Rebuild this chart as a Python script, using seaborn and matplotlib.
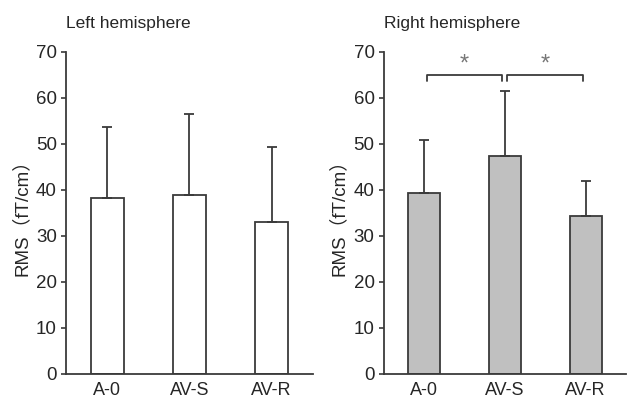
import numpy as np
import pandas as pd
import matplotlib
matplotlib.use("Agg")
import matplotlib.pyplot as plt
import seaborn as sns

# ── DATA ────────────────────────────────────────────────────────────────────
conditions = ["A-0", "AV-S", "AV-R"]
left_mean  = [38.2, 39.0, 33.0]
left_sd    = [15.5, 17.5, 16.4]
right_mean = [39.4, 47.3, 34.3]
right_sd   = [11.4, 14.3, 7.7]
yticks     = [0, 10, 20, 30, 40, 50, 60, 70]
# significance pairs (index a, index b) in right hemisphere
sig_pairs  = [(0, 1), (1, 2)]
sig_level  = 65

# ── STYLE ───────────────────────────────────────────────────────────────────
sns.set_theme(style="ticks")
plt.rcParams["font.family"] = ["Liberation Sans", "Noto Sans CJK SC", "DejaVu Sans"]
EDGE = "#3a3a3a"

fig = plt.figure(figsize=(6.28, 4.03), dpi=100)
ax_l = fig.add_axes([0.105, 0.072, 0.393, 0.799])
ax_r = fig.add_axes([0.611, 0.072, 0.386, 0.799])


def draw_panel(ax, means, sds, fill, title):
    df = pd.DataFrame({"cond": conditions, "rms": means})
    sns.barplot(data=df, x="cond", y="rms", ax=ax, color=fill, width=0.4,
                edgecolor=EDGE, linewidth=1.3, errorbar=None, saturation=1)
    for p in ax.patches:
        p.set_facecolor(fill)
    x = np.arange(len(conditions))
    ax.errorbar(x, means, yerr=[np.zeros(len(sds)), sds], fmt="none",
                ecolor=EDGE, elinewidth=1.3, capsize=3.5, capthick=1.3, zorder=1)
    ax.set_ylim(0, 70)
    ax.set_xlim(-0.5, 2.5)
    ax.set_yticks(yticks)
    ax.set_xlabel("")
    ax.set_ylabel("RMS（fT/cm）", fontsize=13.5, labelpad=4)
    ax.tick_params(axis="y", labelsize=13.5, length=3.5, width=1.2, color=EDGE, pad=3)
    ax.tick_params(axis="x", labelsize=13, length=0, pad=6)
    for s in ["top", "right"]:
        ax.spines[s].set_visible(False)
    for s in ["left", "bottom"]:
        ax.spines[s].set_color(EDGE)
        ax.spines[s].set_linewidth(1.3)
    ax.set_title(title, loc="left", fontsize=12.5, pad=17, x=0.0)


draw_panel(ax_l, left_mean, left_sd, "white", "Left hemisphere")
draw_panel(ax_r, right_mean, right_sd, "#c0c0c0", "Right hemisphere")

# significance brackets
for a, b in sig_pairs:
    xa, xb = a + 0.03, b - 0.03
    ax_r.plot([xa, xa, xb, xb], [sig_level - 1.3, sig_level, sig_level, sig_level - 1.3],
              color=EDGE, lw=1.3, clip_on=False)
    ax_r.text((a + b) / 2, sig_level - 0.2, "*", ha="center", va="bottom",
              fontsize=17, color="#777777")

fig.savefig("out.png", dpi=100)
